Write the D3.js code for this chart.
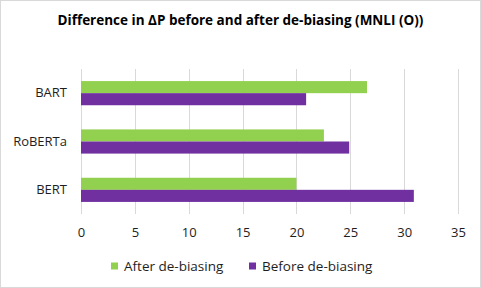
<!DOCTYPE html>
<html>
<head>
<meta charset="utf-8">
<script src="https://cdn.jsdelivr.net/npm/d3@7"></script>
<style>
  body { margin: 0; background: #fff; }
  text { font-family: "Open Sans", "Liberation Sans", sans-serif; fill: #1e1e1e; }
</style>
</head>
<body>
<svg width="481" height="288"></svg>
<script>
var models = ["BART", "RoBERTa", "BERT"];
var afterVals = [26.55, 22.55, 20.0];
var beforeVals = [20.9, 24.9, 30.9];
var seriesNames = ["After de-biasing", "Before de-biasing"];
var seriesColors = ["#92d050", "#7030a0"];
var xTicks = [0, 5, 10, 15, 20, 25, 30, 35];

var svg = d3.select("svg");
var margin = {top: 69, right: 23, bottom: 74, left: 81};
var width = +svg.attr("width") - margin.left - margin.right;
var height = +svg.attr("height") - margin.top - margin.bottom;

// chart border
svg.append("rect")
    .attr("x", 0.5).attr("y", 0.5)
    .attr("width", 480).attr("height", 287)
    .attr("fill", "#fff")
    .attr("stroke", "#d9d9d9");

svg.append("text")
    .attr("x", 240.5).attr("y", 25)
    .attr("text-anchor", "middle")
    .style("font-size", "13.5px")
    .style("font-weight", "bold")
    .style("fill", "#000")
    .text("Difference in ΔP before and after de-biasing (MNLI (O))");

var g = svg.append("g").attr("transform", "translate(" + margin.left + "," + margin.top + ")");

var x = d3.scaleLinear().domain([0, 35]).range([0, width]);
var y = d3.scaleBand().domain(models).range([0, height]).paddingInner(0.5).paddingOuter(0.25);
var inner = d3.scaleBand().domain([0, 1]).range([0, y.bandwidth()]);

// gridlines
g.selectAll(".grid")
    .data(xTicks)
    .enter().append("line")
    .attr("x1", function(d) { return Math.round(x(d)) + 0.5; })
    .attr("x2", function(d) { return Math.round(x(d)) + 0.5; })
    .attr("y1", 0)
    .attr("y2", height)
    .attr("stroke", "#d9d9d9");

var data = [];
for (let i = 0; i < models.length; i++) {
    data.push({model: models[i], s: 0, v: afterVals[i]});
    data.push({model: models[i], s: 1, v: beforeVals[i]});
}

g.selectAll(".bar")
    .data(data)
    .enter().append("rect")
    .attr("class", "bar")
    .attr("x", x(0))
    .attr("y", function(d) { return y(d.model) + inner(d.s); })
    .attr("width", function(d) { return x(d.v) - x(0); })
    .attr("height", inner.bandwidth())
    .attr("fill", function(d) { return seriesColors[d.s]; });

// x axis labels
var xAxis = g.append("g")
    .attr("transform", "translate(0," + height + ")")
    .call(d3.axisBottom(x).tickValues(xTicks).tickSize(0).tickPadding(14));
xAxis.select(".domain").remove();
xAxis.selectAll("text").style("font-size", "13px").style("fill", "#1e1e1e")
    .style("font-family", "'Open Sans', 'Liberation Sans', sans-serif");

// y axis labels
var yAxis = g.append("g")
    .call(d3.axisLeft(y).tickSize(0).tickPadding(14));
yAxis.select(".domain").remove();
yAxis.selectAll("text").style("font-size", "13px").style("fill", "#1e1e1e")
    .style("font-family", "'Open Sans', 'Liberation Sans', sans-serif");

// legend
var legendX = [111, 249];
var legend = svg.selectAll(".legend")
    .data(seriesNames)
    .enter().append("g")
    .attr("transform", function(d, i) { return "translate(" + legendX[i] + ",266)"; });
legend.append("rect")
    .attr("x", 0).attr("y", -3.5)
    .attr("width", 7).attr("height", 7)
    .attr("fill", function(d, i) { return seriesColors[i]; });
legend.append("text")
    .attr("x", 13).attr("y", 0)
    .attr("dy", "0.35em")
    .style("font-size", "13.5px")
    .text(function(d) { return d; });
</script>
</body>
</html>
